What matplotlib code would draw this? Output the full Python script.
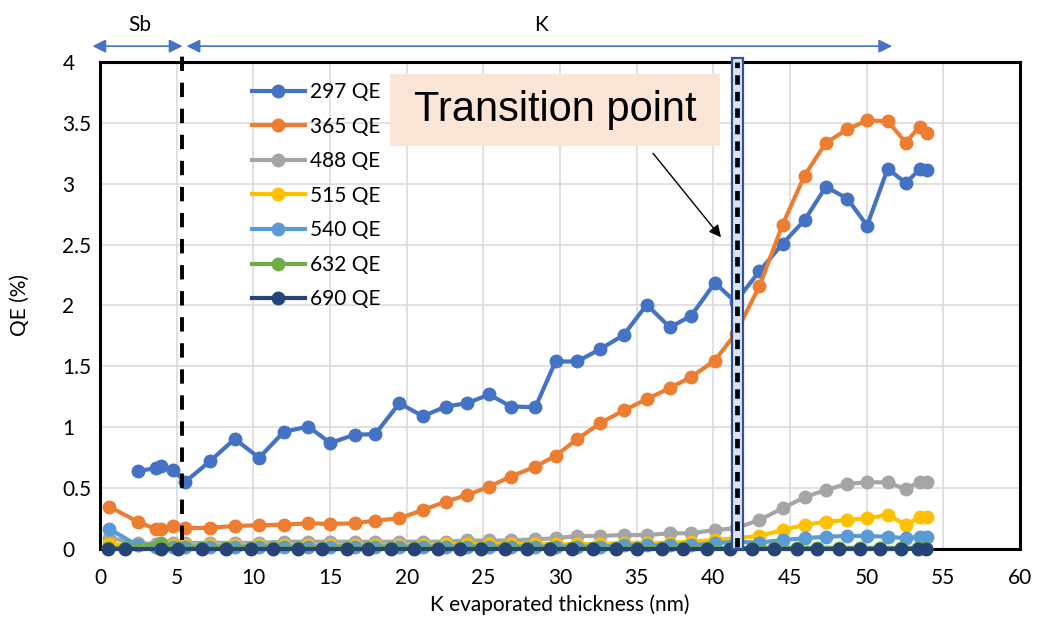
import matplotlib.pyplot as plt
from matplotlib.patches import Rectangle
import numpy as np

plt.rcParams['font.family'] = ['Lato', 'DejaVu Sans']

# thickness values (nm) shared by the 297/365/488/515/540 series
x_k = [0.6, 2.45, 3.67, 4.0, 4.78, 5.55, 7.17, 8.79, 10.38, 11.99, 13.58, 15.03, 16.61, 17.94,
       19.53, 21.05, 22.56, 23.96, 25.38, 26.8, 28.4, 29.71, 31.12, 32.63, 34.15, 35.66, 37.17,
       38.56, 40.1, 41.45, 43.0, 44.52, 45.95, 47.34, 48.74, 50.03, 51.37, 52.56, 53.45, 53.91]
# thickness values for 632/690 series
x_low = [0.51, 1.64, 4.0, 5.08, 6.64, 8.24, 9.82, 11.28, 12.91, 14.5, 16.11, 17.48, 19.01, 20.48,
         22.05, 23.47, 24.88, 26.4, 27.86, 29.32, 30.76, 32.17, 33.65, 35.0, 36.63, 38.04, 39.57,
         41.09, 42.5, 43.98, 45.44, 46.79, 48.2, 49.58, 50.84, 52.25, 53.38, 53.88]

qe_297 = [np.nan, 0.64, 0.664, 0.683, 0.65, 0.55, 0.721, 0.904, 0.749, 0.962, 1.006, 0.87, 0.94, 0.942,
          1.198, 1.09, 1.17, 1.198, 1.269, 1.17, 1.165, 1.54, 1.54, 1.642, 1.757, 2.007, 1.82, 1.916,
          2.185, 2.03, 2.28, 2.508, 2.70, 2.975, 2.878, 2.656, 3.122, 3.007, 3.117, 3.111]
qe_365 = [0.348, 0.225, 0.162, 0.162, 0.189, 0.17, 0.175, 0.189, 0.195, 0.2, 0.211, 0.206, 0.211, 0.233,
          0.252, 0.32, 0.389, 0.444, 0.512, 0.595, 0.677, 0.765, 0.902, 1.034, 1.138, 1.231, 1.322, 1.413,
          1.548, 1.768, 2.157, 2.664, 3.067, 3.336, 3.446, 3.52, 3.514, 3.338, 3.47, 3.417]
qe_488 = [0.09, 0.05, 0.04, 0.04, 0.05, 0.05, 0.05, 0.05, 0.05, 0.06, 0.06, 0.06, 0.06, 0.06,
          0.06, 0.06, 0.06, 0.07, 0.07, 0.07, 0.08, 0.088, 0.107, 0.107, 0.115, 0.115, 0.129, 0.129,
          0.156, 0.17, 0.238, 0.334, 0.425, 0.485, 0.535, 0.548, 0.548, 0.49, 0.553, 0.553]
qe_515 = [0.04, 0.03, 0.02, 0.03, 0.03, 0.03, 0.03, 0.03, 0.03, 0.03, 0.03, 0.03, 0.03, 0.03,
          0.03, 0.03, 0.04, 0.04, 0.04, 0.04, 0.04, 0.04, 0.04, 0.04, 0.05, 0.05, 0.05, 0.06,
          0.074, 0.088, 0.107, 0.156, 0.197, 0.225, 0.238, 0.252, 0.28, 0.2, 0.26, 0.26]
qe_540 = [0.165, 0.03, 0.02, 0.02, 0.02, 0.02, 0.02, 0.02, 0.02, 0.02, 0.02, 0.02, 0.02, 0.02,
          0.02, 0.02, 0.02, 0.02, 0.02, 0.02, 0.02, 0.02, 0.02, 0.02, 0.03, 0.03, 0.03, 0.03,
          0.047, 0.06, 0.052, 0.074, 0.088, 0.101, 0.107, 0.107, 0.101, 0.088, 0.101, 0.101]
qe_632 = [0.01, 0.01, 0.047, 0.01, 0.01, 0.01, 0.01, 0.01, 0.01, 0.01, 0.01, 0.01, 0.01, 0.01,
          0.01, 0.01, 0.01, 0.01, 0.01, 0.01, 0.01, 0.01, 0.01, 0.01, 0.01, 0.01, 0.01, 0.01,
          0.01, 0.01, 0.01, 0.01, 0.01, 0.01, 0.01, 0.01, 0.01, 0.01]
qe_690 = [0.0, 0.0, 0.0, 0.0, 0.0, 0.0, 0.0, 0.0, 0.0, 0.0, 0.0, 0.0, 0.0, 0.0,
          0.0, 0.0, 0.0, 0.0, 0.0, 0.0, 0.0, 0.0, 0.0, 0.0, 0.0, 0.0, 0.0, 0.0,
          0.0, 0.0, 0.0, 0.0, 0.0, 0.0, 0.0, 0.0, 0.002, 0.0]

series = [
    ('297 QE', x_k, qe_297, '#4472C4'),
    ('365 QE', x_k, qe_365, '#ED7D31'),
    ('488 QE', x_k, qe_488, '#A5A5A5'),
    ('515 QE', x_k, qe_515, '#FFC000'),
    ('540 QE', x_k, qe_540, '#5B9BD5'),
    ('632 QE', x_low, qe_632, '#70AD47'),
    ('690 QE', x_low, qe_690, '#264478'),
]

sb_k_boundary = 5.32
transition = 41.55
fs = 15

fig = plt.figure(figsize=(10.5, 6.28), dpi=100)
ax = fig.add_axes([0.0952, 0.1258, 0.8762, 0.7755])

for label, xs, ys, color in series:
    ax.plot(xs, ys, marker='o', markersize=9, linewidth=3, color=color,
            label=label, clip_on=False, zorder=3)

ax.set_xlim(0, 60)
ax.set_ylim(0, 4)
ax.set_xticks(np.arange(0, 61, 5))
ax.set_yticks(np.arange(0, 4.01, 0.5))
ax.set_yticklabels(['0', '0.5', '1', '1.5', '2', '2.5', '3', '3.5', '4'], ha='left')
ax.tick_params(length=0, labelsize=fs)
ax.tick_params(axis='x', pad=14)
ax.tick_params(axis='y', pad=27)
ax.grid(True, color='#D9D9D9', linewidth=1.1)
ax.set_axisbelow(True)
for s in ax.spines.values():
    s.set_linewidth(2.2)
    s.set_color('black')

ax.set_xlabel('K evaporated thickness (nm)', fontsize=fs)
ax.xaxis.set_label_coords(0.5, -0.094)
ax.set_ylabel('QE (%)', fontsize=fs)
ax.yaxis.set_label_coords(-0.076, 0.5)

# Sb / K boundary
ax.plot([sb_k_boundary, sb_k_boundary], [0.07, 4.13], color='black', linewidth=2.8,
        dashes=(3.7, 3.0), clip_on=False, zorder=4)

# transition marker
rect = Rectangle((41.2, 0), 0.76, 4.03, facecolor='#DAE3F3', edgecolor='#2F5597',
                 linewidth=1.6, clip_on=False, zorder=4)
ax.add_patch(rect)
ax.plot([transition, transition], [0.02, 4.0], color='black', linewidth=3.4,
        dashes=(2.0, 1.5), clip_on=False, zorder=5)

# top arrows
ax.annotate('', xy=(-0.49, 4.13), xytext=(5.38, 4.13), annotation_clip=False,
            arrowprops=dict(arrowstyle='<|-|>', color='#4472C4', lw=1.2, mutation_scale=20,
                            shrinkA=0, shrinkB=0))
ax.annotate('', xy=(5.65, 4.13), xytext=(51.66, 4.13), annotation_clip=False,
            arrowprops=dict(arrowstyle='<|-|>', color='#4472C4', lw=1.2, mutation_scale=20,
                            shrinkA=0, shrinkB=0))
ax.text(2.58, 4.30, 'Sb', ha='center', va='center', fontsize=fs, clip_on=False)
ax.text(28.75, 4.30, 'K', ha='center', va='center', fontsize=fs, clip_on=False)

# transition label
ax.add_patch(Rectangle((18.89, 3.31), 21.55, 0.59, facecolor='#FBE5D6', edgecolor='none', zorder=4))
ax.text(29.66, 3.606, 'Transition point', ha='center', va='center', fontsize=30,
        family='Liberation Sans', zorder=5)
ax.annotate('', xy=(40.5, 2.56), xytext=(36.07, 3.25),
            arrowprops=dict(arrowstyle='-|>', color='black', lw=1.0, mutation_scale=18,
                            shrinkA=0, shrinkB=0), zorder=5)

ax.legend(loc='upper left', bbox_to_anchor=(0.165, 0.959), frameon=False, fontsize=fs,
          handlelength=2.55, handletextpad=0.25, labelspacing=0.7, borderpad=0, borderaxespad=0)

fig.savefig('out.png', dpi=100)
